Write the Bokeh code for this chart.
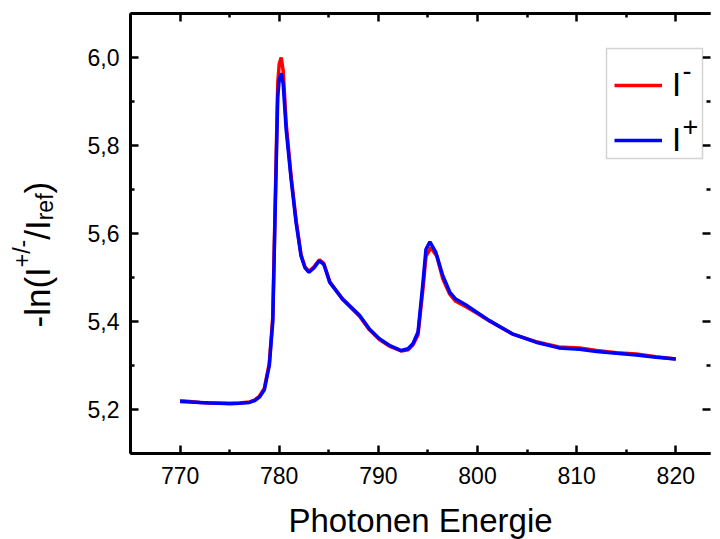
import math
from bokeh.plotting import figure
from bokeh.layouts import row
from bokeh.models import (Range1d, LinearAxis, FixedTicker, CustomJSTickFormatter,
                          Label, Legend, LegendItem, BoxAnnotation)
from bokeh.core.properties import value
from bokeh.embed import file_html
from bokeh.resources import INLINE

# ---------------- data ----------------
energy_plus = [770, 771, 772, 773, 774, 775, 776, 777, 777.5, 778, 778.5, 779, 779.35,
               779.7, 779.85, 780.0, 780.2, 780.4, 780.7, 781.2, 781.7, 782.2, 782.6,
               783.0, 783.5, 784.05, 784.5, 785.1, 786.4, 788.1, 789.1, 790.1, 791.1,
               792.3, 793.0, 793.5, 794.0, 794.5, 794.8, 795.2, 795.8, 796.5, 797.2,
               797.8, 798.8, 800.0, 801.2, 803.5, 805.9, 808.2, 810.3, 812, 814, 816,
               818, 820]
absorb_plus = [5.218, 5.217, 5.216, 5.215, 5.214, 5.213, 5.214, 5.216, 5.220, 5.228,
               5.245, 5.300, 5.400, 5.760, 5.910, 5.950, 5.964, 5.940, 5.836, 5.723,
               5.625, 5.549, 5.522, 5.512, 5.522, 5.538, 5.530, 5.489, 5.451, 5.414,
               5.383, 5.361, 5.346, 5.334, 5.338, 5.350, 5.376, 5.489, 5.564, 5.581,
               5.557, 5.504, 5.467, 5.451, 5.438, 5.420, 5.402, 5.372, 5.353, 5.340,
               5.337, 5.332, 5.328, 5.324, 5.319, 5.315]

energy_minus = [770, 771, 772, 773, 774, 775, 776, 777, 777.5, 778, 778.5, 779, 779.35,
                779.7, 779.85, 780.0, 780.2, 780.4, 780.7, 781.2, 781.7, 782.2, 782.6,
                783.0, 783.5, 784.05, 784.5, 785.1, 786.4, 788.1, 789.1, 790.1, 791.1,
                792.3, 793.0, 793.5, 794.0, 794.5, 794.8, 795.3, 795.9, 796.5, 797.2,
                797.8, 798.8, 800.0, 801.2, 803.5, 805.9, 808.2, 810.3, 812, 814, 816,
                818, 820]
absorb_minus = [5.220, 5.218, 5.216, 5.215, 5.214, 5.214, 5.215, 5.217, 5.221, 5.230,
                5.248, 5.305, 5.410, 5.780, 5.940, 5.985, 6.000, 5.970, 5.850, 5.730,
                5.630, 5.552, 5.524, 5.514, 5.524, 5.540, 5.532, 5.490, 5.450, 5.412,
                5.381, 5.359, 5.344, 5.333, 5.336, 5.347, 5.370, 5.475, 5.548, 5.568,
                5.548, 5.497, 5.462, 5.446, 5.434, 5.418, 5.401, 5.372, 5.354, 5.342,
                5.340, 5.334, 5.329, 5.326, 5.320, 5.315]

x_ticks = [770, 780, 790, 800, 810, 820]
x_minor = [765, 775, 785, 795, 805, 815, 825]
y_ticks = [5.2, 5.4, 5.6, 5.8, 6.0]
y_minor = [5.1, 5.3, 5.5, 5.7, 5.9, 6.1]

legend_labels = ["I", "I"]
legend_sups = ["-", "+"]
x_title = "Photonen Energie"
y_title_parts = ["-ln(I", "+/-", "/I", "ref", ")"]

X0, X1 = 765, 823.5
Y0, Y1 = 5.1, 6.1

FONT = "Liberation Sans"

# geometry (pixels)
LEFT_W = 70          # width of the narrow title panel
FRAME_L = 130        # page x of plot frame left edge
FRAME_T = 13
FRAME_W = 580
FRAME_H = 440
BOTTOM = 78

p = figure(frame_width=FRAME_W, frame_height=FRAME_H,
           x_range=Range1d(X0, X1), y_range=Range1d(Y0, Y1),
           output_backend="svg", toolbar_location=None,
           min_border_left=FRAME_L - LEFT_W, min_border_right=2,
           min_border_top=FRAME_T, min_border_bottom=BOTTOM)
p.xgrid.visible = False
p.ygrid.visible = False
p.outline_line_color = None
p.background_fill_color = "white"
p.border_fill_color = "white"


def style_axis(ax, show_labels=True):
    ax.axis_line_width = 3
    ax.axis_line_color = "black"
    ax.major_tick_in = 8
    ax.major_tick_out = 0
    ax.minor_tick_in = 4
    ax.minor_tick_out = 0
    ax.major_tick_line_width = 2.5
    ax.minor_tick_line_width = 2.5
    ax.major_tick_line_color = "black"
    ax.minor_tick_line_color = "black"
    ax.major_label_text_font = FONT
    ax.major_label_text_color = "black"
    ax.major_label_text_font_size = "23px"
    if not show_labels:
        ax.formatter = CustomJSTickFormatter(code="return '';")
        ax.major_label_standoff = 0


xa = p.xaxis[0]
xa.ticker = FixedTicker(ticks=x_ticks, minor_ticks=x_minor)
style_axis(xa)
xa.major_label_standoff = 13
xa.axis_label = x_title
xa.axis_label_text_font = FONT
xa.axis_label_text_font_size = "33px"
xa.axis_label_text_font_style = "normal"
xa.axis_label_text_color = "black"
xa.axis_label_standoff = 15

ya = p.yaxis[0]
ya.ticker = FixedTicker(ticks=y_ticks, minor_ticks=y_minor)
style_axis(ya)
ya.major_label_standoff = 11
ya.formatter = CustomJSTickFormatter(code="return tick.toFixed(1).replace('.', ',');")

top = LinearAxis(ticker=FixedTicker(ticks=x_ticks, minor_ticks=x_minor))
style_axis(top, show_labels=False)
p.add_layout(top, "above")

right = LinearAxis(ticker=FixedTicker(ticks=y_ticks, minor_ticks=y_minor))
style_axis(right, show_labels=False)
right.axis_line_color = None
p.add_layout(right, "right")

r_minus = p.line(energy_minus, absorb_minus, line_color="#FF0000", line_width=3.5)
r_plus = p.line(energy_plus, absorb_plus, line_color="#0000FF", line_width=3.5)

SX = FRAME_W / (X1 - X0)
SY = FRAME_H / (Y1 - Y0)


def xd(px):
    return X0 + (px - FRAME_L) / SX


def yd(py):
    return Y1 - (py - FRAME_T) / SY


# legend frame
p.add_layout(BoxAnnotation(left=xd(606), right=xd(702), top=yd(48), bottom=yd(158),
                           fill_color="white", fill_alpha=1.0,
                           line_color="#707070", line_width=1.5, level="annotation"))

legend = Legend(items=[LegendItem(label=legend_labels[0], renderers=[r_minus]),
                       LegendItem(label=legend_labels[1], renderers=[r_plus])],
                location=(606 - FRAME_L + 8, FRAME_T + FRAME_H - 162), orientation="vertical",
                padding=8, spacing=11, margin=0,
                label_height=44, glyph_height=44, glyph_width=48, label_standoff=10,
                label_text_font=FONT, label_text_font_size="33px",
                label_text_color="black",
                border_line_color=None, background_fill_alpha=0.0)
p.add_layout(legend)

for sup, py in zip(legend_sups, [70, 126]):
    p.add_layout(Label(x=xd(682), y=yd(py), text=sup, text_font=FONT,
                       text_font_size="27px", text_color="black",
                       text_align="left", text_baseline="alphabetic"))

# ---------------- narrow panel with the rotated y-axis title ----------------
t = figure(frame_width=LEFT_W, frame_height=FRAME_H,
           x_range=Range1d(0, LEFT_W), y_range=Range1d(Y0, Y1),
           x_axis_type=None, y_axis_type=None,
           output_backend="svg", toolbar_location=None,
           min_border_left=0, min_border_right=0,
           min_border_top=FRAME_T, min_border_bottom=BOTTOM)
t.outline_line_color = None
t.xgrid.visible = False
t.ygrid.visible = False
t.background_fill_color = "white"
t.border_fill_color = "white"

MAIN, SMALL = 35, 23
starts = [327.0]
sizes = [MAIN, SMALL, MAIN, SMALL, MAIN]
em = [1.722, 1.195, 0.556, 1.167, 0.333]
for w, s in zip(em[:-1], sizes[:-1]):
    starts.append(starts[-1] - w * s)
bases = [37, 21, 37, 44, 37]
for txt, py, bx, s in zip(y_title_parts, starts, bases, sizes):
    t.text(x=[bx], y=[yd(py)], text=[txt], angle=math.pi / 2,
           text_font=value(FONT), text_font_size=value(f"{s}px"),
           text_color="black", text_align="left", text_baseline="alphabetic")

layout = row(t, p, spacing=0)
open("out.html", "w").write(file_html(layout, INLINE))
